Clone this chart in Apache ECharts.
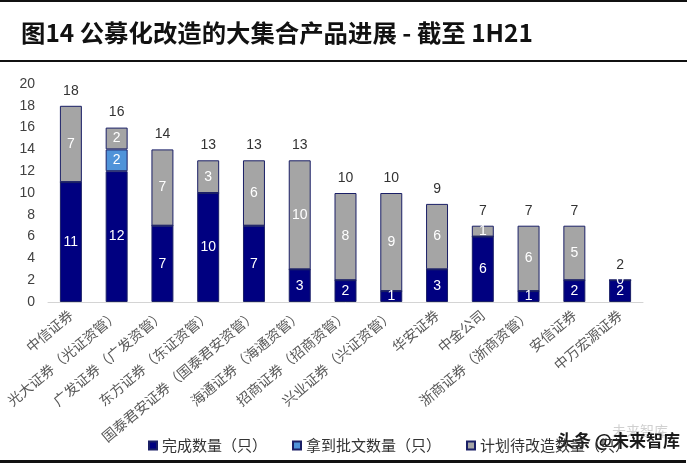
<!DOCTYPE html>
<html><head><meta charset="utf-8">
<script src="https://cdn.jsdelivr.net/npm/echarts@6/dist/echarts.min.js"></script>
<style>html,body{margin:0;padding:0;background:#fff}#c{width:700px;height:466px}</style>
</head><body><div id="c"></div>
<script>
const categories = ['中信证券','光大证券（光证资管）','广发证券（广发资管）','东方证券（东证资管）','国泰君安证券（国泰君安资管）','海通证券（海通资管）','招商证券（招商资管）','兴业证券（兴证资管）','华安证券','中金公司','浙商证券（浙商资管）','安信证券','中万宏源证券'];
const done = [11,12,7,10,7,3,2,1,3,6,1,2,2];
const approved = [0,2,0,0,0,0,0,0,0,0,0,0,0];
const planned = [7,2,7,3,6,10,8,9,6,1,6,5,0];
const totals = [18,16,14,13,13,13,10,10,9,7,7,7,2];
const yTicks = [0,20,2];

const CJK = '"Noto Sans CJK SC", sans-serif';
const chart = echarts.init(document.getElementById('c'), null, {renderer:'canvas'});
const border = '#1a1f66';
const inLabel = {show:true, position:'inside', color:'#fff', fontSize:14, fontFamily:'Arial, "Liberation Sans", sans-serif'};
chart.setOption({
  animation:false,
  title:{text:'图14 公募化改造的大集合产品进展 - 截至 1H21', left:16, top:16,
    textStyle:{fontSize:24.4, fontWeight:'bold', color:'#111', fontFamily:CJK}},
  grid:{left:48, right:57, top:84, bottom:164},
  legend:{data:['完成数量（只）','拿到批文数量（只）','计划待改造数量（只）'], left:143, top:433,
    itemWidth:8, itemHeight:8, itemGap:25, icon:'rect',
    textStyle:{fontSize:15, color:'#333', fontFamily:CJK}},
  xAxis:{type:'category', data:categories,
    axisLine:{lineStyle:{color:'#d4d4d4', width:1}}, axisTick:{show:false},
    axisLabel:{rotate:40, interval:0, fontSize:14, color:'#595959', margin:11, fontFamily:CJK}},
  yAxis:{type:'value', min:yTicks[0], max:yTicks[1], interval:yTicks[2],
    splitLine:{show:false}, axisLine:{show:false}, axisTick:{show:false},
    axisLabel:{fontSize:14, color:'#404040', margin:13, fontFamily:'Arial, "Liberation Sans", sans-serif'}},
  series:[
    {name:'完成数量（只）', type:'bar', stack:'s', barWidth:'48%', data:done,
      itemStyle:{color:'#000080', borderColor:border, borderWidth:1}, label:inLabel},
    {name:'拿到批文数量（只）', type:'bar', stack:'s', data:approved,
      itemStyle:{color:'#4f93d9', borderColor:border, borderWidth:1},
      label:Object.assign({}, inLabel, {formatter:p=>p.value>0?p.value:''})},
    {name:'计划待改造数量（只）', type:'bar', stack:'s', data:planned,
      itemStyle:{color:'#a5a5a5', borderColor:border, borderWidth:1}, label:inLabel},
    {name:'合计', type:'bar', stack:'s', data:totals.map(()=>0),
      itemStyle:{color:'transparent', borderWidth:0},
      label:{show:true, position:'top', distance:8, color:'#333', fontSize:14,
        fontFamily:'Arial, "Liberation Sans", sans-serif', formatter:p=>totals[p.dataIndex]}}
  ],
  graphic:[
    {type:'rect', shape:{x:0,y:0,width:687,height:2}, style:{fill:'#111'}},
    {type:'rect', shape:{x:0,y:60,width:687,height:2}, style:{fill:'#111'}},
    {type:'rect', shape:{x:0,y:460,width:686,height:3}, style:{fill:'#111'}},
    {type:'text', left:612, top:424, style:{text:'未来智库', fill:'rgba(120,120,120,0.35)', font:'14px "Noto Sans CJK SC"'}},
    {type:'text', left:557, top:432, style:{text:'头条 @未来智库', fill:'#1a1a1a', font:'bold 17px "Noto Sans CJK SC"'}}
  ]
});
</script></body></html>
